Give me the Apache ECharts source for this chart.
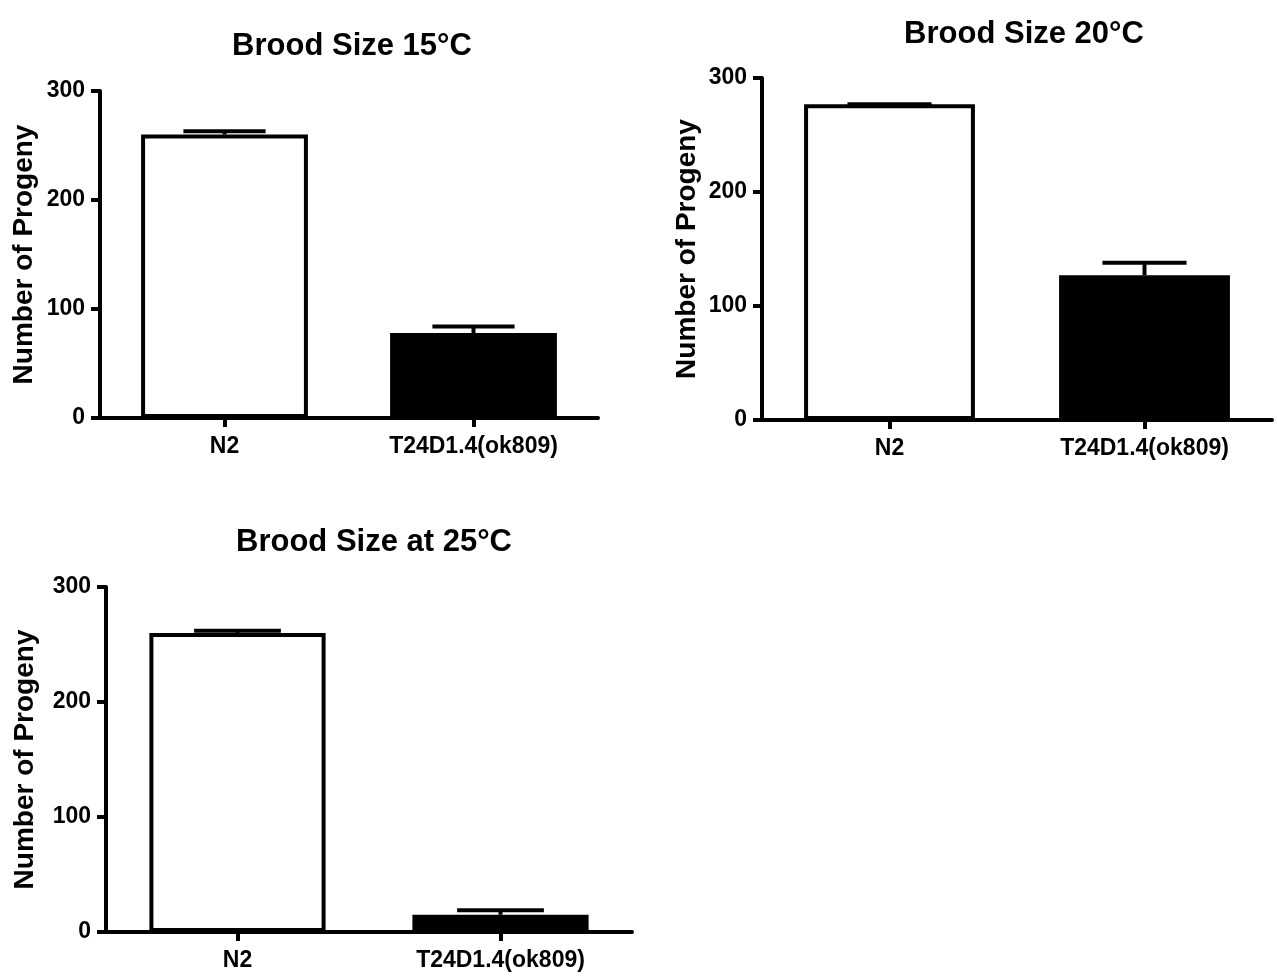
<!DOCTYPE html>
<html>
<head>
    <meta charset="utf-8">
    <title>Brood Size</title>
    <script src="https://cdn.jsdelivr.net/npm/echarts@6/dist/echarts.min.js"></script>
</head>
<body style="margin:0;background:#fff;">
    <div id="main" style="width:1277px;height:976px;"></div>
    <script type="text/javascript">

    var categories = ['N2', 'T24D1.4(ok809)'];
    var titles = ['Brood Size 15°C', 'Brood Size 20°C', 'Brood Size at 25°C'];
    var yAxisName = 'Number of Progeny';

    // mean and SEM (upper bar only)
    var mean15 = [260, 78];
    var sem15 = [3, 6];
    var mean20 = [277, 127];
    var sem20 = [0, 11];
    var mean25 = [260, 15];
    var sem25 = [2, 4];

    var means = [mean15, mean20, mean25];
    var sems = [sem15, sem20, sem25];

    // layout of the three panels
    var grids = [
        {left: 100, top: 91, width: 498, height: 327},
        {left: 762, top: 78, width: 510, height: 342},
        {left: 106, top: 587, width: 526, height: 345}
    ];
    var titlePos = [[347, 26], [1019, 14], [369, 522]];
    var nameGaps = [62, 61, 67];

    var font = 'Liberation Sans, Arial, Helvetica, sans-serif';
    var barColors = [
        {color: '#fff', borderColor: '#000', borderWidth: 4},
        {color: '#000', borderColor: '#000', borderWidth: 4}
    ];

    function renderErr(params, api) {
        var i = api.value(0);
        var base = api.coord([i, api.value(1)]);
        var top = api.coord([i, api.value(1) + api.value(2)]);
        var w = api.size([1, 0])[0] * 0.33;
        return {
            type: 'group',
            children: [
                {type: 'line', shape: {x1: base[0], y1: base[1], x2: top[0], y2: top[1]},
                 style: {stroke: '#000', lineWidth: 4}},
                {type: 'line', shape: {x1: top[0] - w / 2, y1: top[1], x2: top[0] + w / 2, y2: top[1]},
                 style: {stroke: '#000', lineWidth: 4}}
            ]
        };
    }

    var option = {
        animation: false,
        backgroundColor: '#fff',
        title: [],
        grid: [],
        xAxis: [],
        yAxis: [],
        series: []
    };

    for (var k = 0; k < 3; k++) {
        option.title.push({
            text: titles[k],
            left: titlePos[k][0],
            top: titlePos[k][1],
            textAlign: 'center',
            textStyle: {fontFamily: font, fontWeight: 'bold', fontSize: 31, color: '#000'}
        });
        option.grid.push(grids[k]);
        option.xAxis.push({
            type: 'category',
            gridIndex: k,
            data: categories,
            axisLine: {lineStyle: {color: '#000', width: 4}},
            axisTick: {show: true, alignWithLabel: true, length: 9, lineStyle: {color: '#000', width: 4}},
            axisLabel: {interval: 0, margin: 17, color: '#000', fontFamily: font, fontWeight: 'bold', fontSize: 23},
            splitLine: {show: false}
        });
        option.yAxis.push({
            type: 'value',
            gridIndex: k,
            min: 0,
            max: 300,
            interval: 100,
            name: yAxisName,
            nameLocation: 'middle',
            nameGap: nameGaps[k],
            nameTextStyle: {color: '#000', fontFamily: font, fontWeight: 'bold', fontSize: 28},
            axisLine: {show: true, lineStyle: {color: '#000', width: 4}},
            axisTick: {show: true, length: 9, lineStyle: {color: '#000', width: 4}},
            axisLabel: {margin: 15, color: '#000', fontFamily: font, fontWeight: 'bold', fontSize: 23},
            splitLine: {show: false}
        });

        var barData = [];
        var errData = [];
        for (var i = 0; i < categories.length; i++) {
            barData.push({value: means[k][i], itemStyle: barColors[i]});
            errData.push([i, means[k][i], sems[k][i]]);
        }
        option.series.push({
            type: 'bar',
            xAxisIndex: k,
            yAxisIndex: k,
            barWidth: '67%',
            data: barData
        });
        option.series.push({
            type: 'custom',
            xAxisIndex: k,
            yAxisIndex: k,
            renderItem: renderErr,
            encode: {x: 0, y: 1},
            z: 5,
            data: errData
        });
    }

    var myChart = echarts.init(document.getElementById('main'));
    myChart.setOption(option);

    </script>
</body>
</html>
